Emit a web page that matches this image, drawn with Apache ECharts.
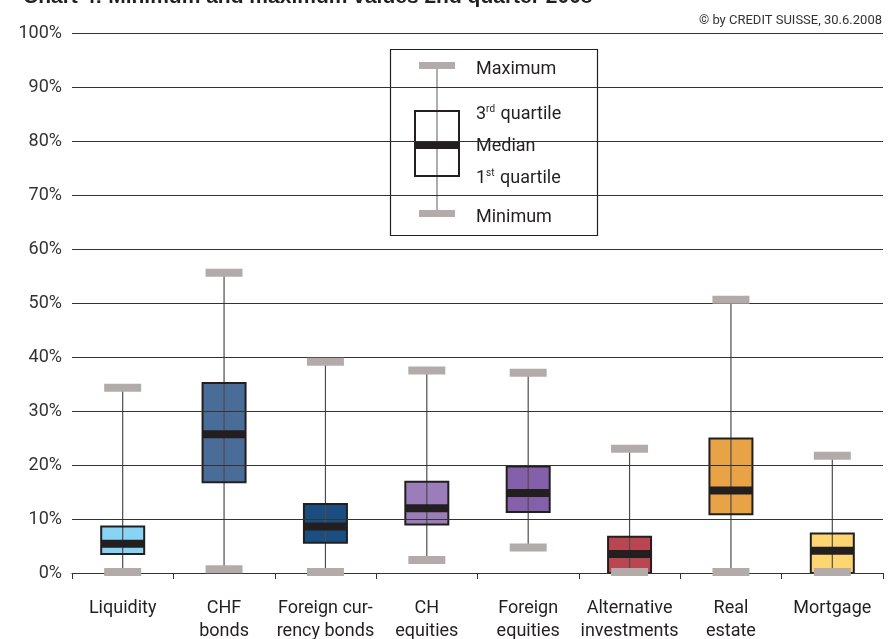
<!DOCTYPE html>
<html>
<head>
<meta charset="utf-8">
<script src="https://cdn.jsdelivr.net/npm/echarts@6/dist/echarts.min.js"></script>
<style>
  html, body { margin: 0; padding: 0; background: #fff; }
  #chart { width: 896px; height: 639px; }
</style>
</head>
<body>
<div id="chart"></div>
<script>
// asset classes (values in %)
const categories = ['Liquidity', 'CHF\nbonds', 'Foreign cur-\nrency bonds', 'CH\nequities',
  'Foreign\nequities', 'Alternative\ninvestments', 'Real\nestate', 'Mortgage'];
const minimum = [0.2, 0.7, 0.2, 2.4, 4.7, 0.2, 0.2, 0.2];
const quartile1 = [3.5, 16.8, 5.6, 9.0, 11.3, 0, 10.9, 0];
const median = [5.4, 25.7, 8.6, 12.0, 14.8, 3.5, 15.3, 4.1];
const quartile3 = [8.6, 35.2, 12.8, 16.9, 19.7, 6.7, 24.9, 7.3];
const maximum = [34.3, 55.6, 39.1, 37.5, 37.1, 23.0, 50.6, 21.7];
const boxColors = ['#87d4f4', '#4a6c99', '#1a4e80', '#9b7db9', '#8560aa', '#b94650', '#e8a346', '#fdd672'];
const yTicks = [0, 10, 20, 30, 40, 50, 60, 70, 80, 90, 100];

const FONT = 'Roboto, "Liberation Sans", sans-serif';
const DARK = '#231f20';
const CAP = '#b3aba9';

const boxData = categories.map((c, i) => [i, minimum[i], quartile1[i], median[i], quartile3[i], maximum[i]]);

const chart = echarts.init(document.getElementById('chart'));

// box body, whisker and median band (under the grid lines)
function renderBox(params, api) {
  const i = api.value(0);
  const lo = api.coord([i, api.value(1)]);
  const q1 = api.coord([i, api.value(2)]);
  const md = api.coord([i, api.value(3)]);
  const q3 = api.coord([i, api.value(4)]);
  const hi = api.coord([i, api.value(5)]);
  const w = 43;
  const x = q1[0] - w / 2;
  return {
    type: 'group',
    children: [
      { type: 'rect', shape: { x: x, y: q3[1], width: w, height: q1[1] - q3[1] },
        style: { fill: boxColors[params.dataIndex], stroke: null } },
      { type: 'line', shape: { x1: lo[0], y1: lo[1], x2: hi[0], y2: hi[1] },
        style: { stroke: '#4d4d4d', lineWidth: 1.2 } },
      { type: 'rect', shape: { x: x, y: md[1] - 4, width: w, height: 8 },
        style: { fill: DARK } },
      { type: 'rect', shape: { x: x, y: q3[1], width: w, height: q1[1] - q3[1] },
        style: { fill: null, stroke: DARK, lineWidth: 2 } }
    ]
  };
}

// grey caps for min and max (on top of the grid lines)
function renderCaps(params, api) {
  const i = api.value(0);
  const lo = api.coord([i, api.value(1)]);
  const hi = api.coord([i, api.value(5)]);
  const w = 37, h = 8;
  return {
    type: 'group',
    children: [
      { type: 'rect', shape: { x: lo[0] - w / 2, y: lo[1] - h / 2, width: w, height: h }, style: { fill: CAP } },
      { type: 'rect', shape: { x: hi[0] - w / 2, y: hi[1] - h / 2, width: w, height: h }, style: { fill: CAP } }
    ]
  };
}

// legend explaining the box
const lx = 437;
const supRich = { s: { fontSize: 10, verticalAlign: 'top', padding: [0, 1, 9, 0], fontFamily: FONT } };
const legend = [
  { type: 'rect', shape: { x: 390.5, y: 49.5, width: 207, height: 186 },
    style: { fill: '#fff', stroke: DARK, lineWidth: 1.2 } },
  { type: 'line', shape: { x1: lx, y1: 65, x2: lx, y2: 213 }, style: { stroke: '#777', lineWidth: 1.2 } },
  { type: 'rect', shape: { x: lx - 18, y: 62, width: 36, height: 7 }, style: { fill: CAP } },
  { type: 'rect', shape: { x: lx - 18, y: 210, width: 36, height: 7 }, style: { fill: CAP } },
  { type: 'rect', shape: { x: 415, y: 111, width: 44, height: 65 }, style: { fill: null, stroke: DARK, lineWidth: 2 } },
  { type: 'rect', shape: { x: 415, y: 141, width: 44, height: 8 }, style: { fill: DARK } },
  { type: 'text', x: 476, y: 69, style: { text: 'Maximum', font: '18px ' + FONT, fill: DARK, verticalAlign: 'middle' } },
  { type: 'text', x: 476, y: 114, style: { text: '3{s|rd} quartile', font: '18px ' + FONT, fill: DARK, verticalAlign: 'middle', rich: supRich } },
  { type: 'text', x: 476, y: 146, style: { text: 'Median', font: '18px ' + FONT, fill: DARK, verticalAlign: 'middle' } },
  { type: 'text', x: 476, y: 178, style: { text: '1{s|st} quartile', font: '18px ' + FONT, fill: DARK, verticalAlign: 'middle', rich: supRich } },
  { type: 'text', x: 476, y: 217, style: { text: 'Minimum', font: '18px ' + FONT, fill: DARK, verticalAlign: 'middle' } }
];

chart.setOption({
  animation: false,
  backgroundColor: '#fff',
  textStyle: { fontFamily: FONT },
  title: {
    text: 'Chart 4: Minimum and maximum values 2nd quarter 2008',
    left: 18,
    top: -18,
    textStyle: { fontSize: 21, fontWeight: 'bold', color: DARK, fontFamily: '"Liberation Sans", sans-serif' }
  },
  grid: { left: 72, right: 13, top: 33, bottom: 66, containLabel: false, outerBoundsMode: 'none' },
  xAxis: {
    type: 'category',
    data: categories,
    z: 2,
    axisLine: { lineStyle: { color: '#333', width: 1.2 } },
    axisTick: { show: true, length: 6, lineStyle: { color: '#333' } },
    axisLabel: { fontSize: 18, lineHeight: 23, color: DARK, margin: 24, interval: 0 },
    splitLine: { show: false }
  },
  yAxis: {
    type: 'value',
    min: yTicks[0],
    max: yTicks[yTicks.length - 1],
    interval: 10,
    z: 2,
    axisLine: { show: false },
    axisTick: { show: false },
    axisLabel: { fontSize: 18, color: '#333', margin: 10, formatter: '{value}%' },
    splitLine: { lineStyle: { color: '#333', width: 1.2 } }
  },
  graphic: [
    { type: 'text', right: 14, top: 14, z: 100,
      style: { text: '© by CREDIT SUISSE, 30.6.2008', font: '13px ' + FONT, fill: '#333' } },
    { type: 'group', z: 100, children: legend }
  ],
  series: [
    { type: 'custom', name: 'box', z: 1, renderItem: renderBox, data: boxData,
      encode: { x: 0, y: [1, 2, 3, 4, 5] } },
    { type: 'custom', name: 'caps', z: 3, renderItem: renderCaps, data: boxData,
      encode: { x: 0, y: [1, 5] } }
  ]
});
</script>
</body>
</html>
